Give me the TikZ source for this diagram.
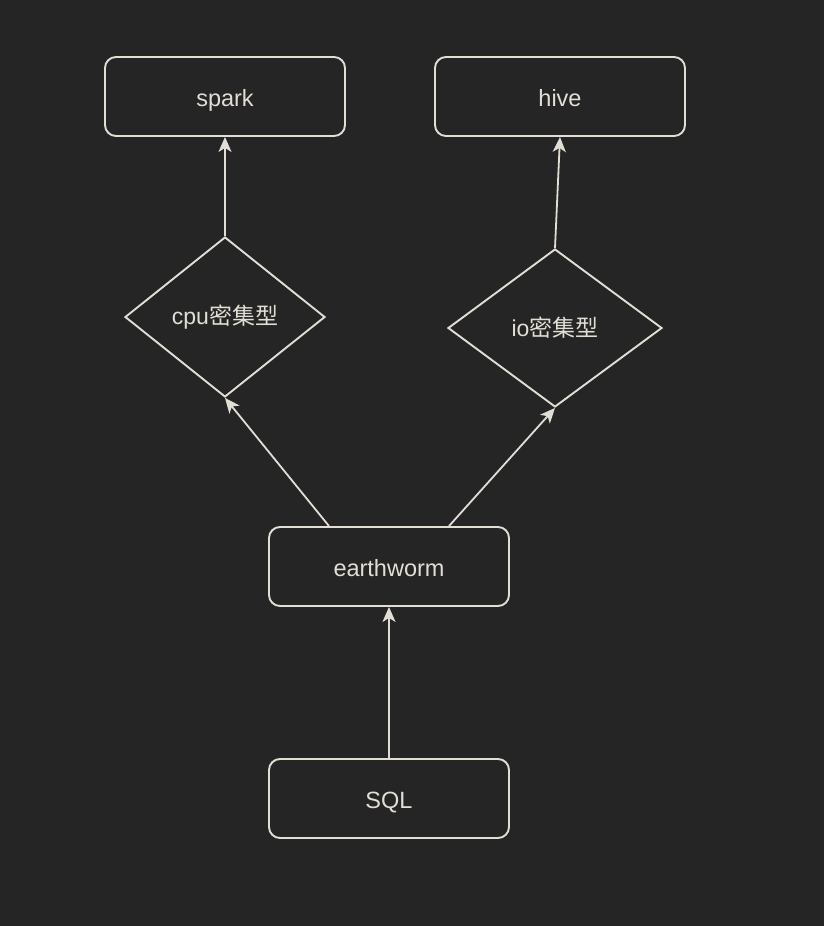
\documentclass[tikz,border=0pt]{standalone}
\usepackage{fontspec}
\setmainfont{Liberation Sans}
\newfontfamily\cjk{Noto Sans CJK SC}
\usetikzlibrary{shapes.geometric,arrows.meta}
\definecolor{bgc}{HTML}{252525}
\definecolor{fgc}{HTML}{E2DED5}
\tikzset{
  box/.style={draw=fgc, line width=1.9pt, rounded corners=11pt, text=fgc, font=\fontsize{23.5}{28}\selectfont, inner sep=0pt, text height=19pt, text depth=0pt},
  dia/.style={diamond, draw=fgc, line width=1.9pt, text=fgc, font=\fontsize{23}{28}\selectfont, inner sep=0pt},
  conn/.style={draw=fgc, line width=1.8pt, -{Stealth[length=15pt,width=13pt,inset=4pt]}}
}
\begin{document}
\begin{tikzpicture}[x=1pt,y=-1pt]
\fill[bgc] (0,0) rectangle (824,926);
\useasboundingbox (0,0) rectangle (824,926);
\node[box, minimum width=240pt, minimum height=79pt] (spark) at (225,96.5) {spark};
\node[box, minimum width=250pt, minimum height=79pt] (hive) at (560,96.5) {hive};
\node[dia, minimum width=200pt, minimum height=160pt] (cpu) at (225,317) {cpu{\cjk 密集型}};
\node[dia, minimum width=214pt, minimum height=158pt] (io) at (555,328) {io{\cjk 密集型}};
\node[box, minimum width=240pt, minimum height=79pt] (earth) at (389,566.5) {earthworm};
\node[box, minimum width=240pt, minimum height=79pt] (sql) at (389,798.5) {SQL};
\draw[conn] (sql.north) -- (earth.south);
\draw[conn] ([xshift=-60pt]earth.north) -- (cpu.south);
\draw[conn] ([xshift=60pt]earth.north) -- (io.south);
\draw[conn] (cpu.north) -- (spark.south);
\draw[conn] (io.north) -- (hive.south);
\end{tikzpicture}
\end{document}
